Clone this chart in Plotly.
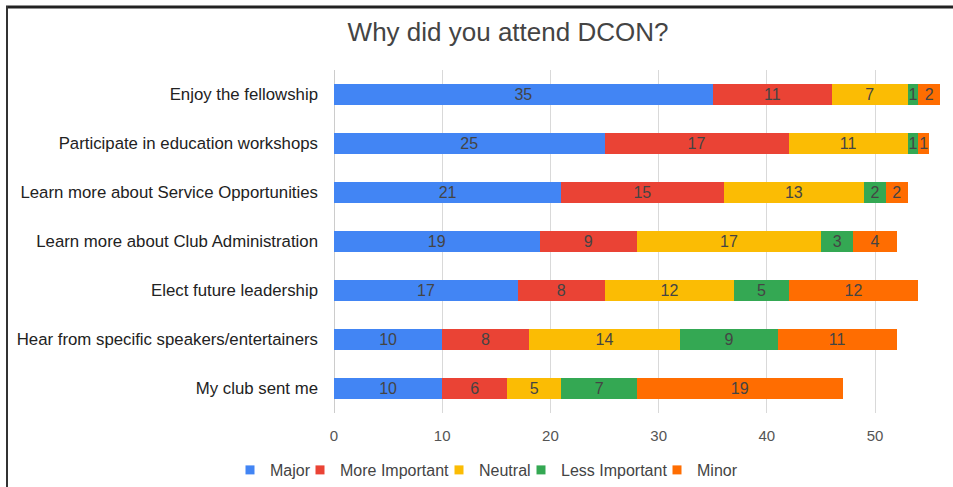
import plotly.graph_objects as go

categories = [
    "Enjoy the fellowship",
    "Participate in education workshops",
    "Learn more about Service Opportunities",
    "Learn more about Club Administration",
    "Elect future leadership",
    "Hear from specific speakers/entertainers",
    "My club sent me",
]
major = [35, 25, 21, 19, 17, 10, 10]
more_important = [11, 17, 15, 9, 8, 8, 6]
neutral = [7, 11, 13, 17, 12, 14, 5]
less_important = [1, 1, 2, 3, 5, 9, 7]
minor = [2, 1, 2, 4, 12, 11, 19]

series = [
    ("Major", major, "#4285F4"),
    ("More Important", more_important, "#EA4335"),
    ("Neutral", neutral, "#FBBC04"),
    ("Less Important", less_important, "#34A853"),
    ("Minor", minor, "#FF6D01"),
]
# x pixel where each legend entry's text starts (reference)
legend_text_x = [271, 341, 480, 562, 698]

FONT = "Arial, Liberation Sans, sans-serif"
W, H = 953, 487
L, R, T, B = 334, 13, 70, 74
pw, ph = W - L - R, H - T - B

fig = go.Figure()
legend_layouts = {}
for i, (name, vals, color) in enumerate(series):
    lname = "legend" if i == 0 else f"legend{i + 1}"
    fig.add_trace(go.Bar(
        y=categories, x=vals, name=name, orientation="h",
        marker=dict(color=color, line=dict(width=0)),
        text=[str(v) for v in vals], textposition="inside",
        insidetextanchor="middle", textangle=0,
        textfont=dict(size=16, color="#444444", family=FONT),
        constraintext="none", cliponaxis=False, showlegend=False,
    ))
    fig.add_trace(go.Scatter(
        x=[None], y=[None], mode="markers", name=name, legend=lname,
        marker=dict(symbol="square", size=9, color=color), showlegend=True,
    ))
    legend_layouts[lname] = dict(
        orientation="h", xref="container", yref="container",
        x=(legend_text_x[i] - 41) / W, xanchor="left",
        y=1 - 470 / H, yanchor="middle",
        font=dict(size=16, color="#444444", family=FONT),
        itemwidth=30, bgcolor="rgba(0,0,0,0)",
    )

fig.update_layout(
    width=W, height=H, barmode="stack", bargap=0.59,
    margin=dict(l=L, r=R, t=T, b=B, pad=0, autoexpand=False),
    paper_bgcolor="white", plot_bgcolor="white",
    font=dict(family=FONT, color="#444444"),
    uniformtext=dict(minsize=16, mode="show"),
    title=dict(text="Why did you attend DCON?", x=508 / W, xref="container", xanchor="center",
               y=1 - 32 / H, yref="container", yanchor="middle",
               font=dict(size=26, color="#444444", family=FONT)),
    xaxis=dict(range=[0, 56], tickvals=[0, 10, 20, 30, 40, 50], showgrid=True,
               gridcolor="#d9d9d9", gridwidth=1, zeroline=True, zerolinecolor="#cccccc",
               zerolinewidth=1, showline=False, ticks="", ticklabelstandoff=12,
               tickfont=dict(size=15, color="#555555")),
    yaxis=dict(autorange="reversed", showgrid=False, ticks="", showline=False,
               ticklabelstandoff=15, tickfont=dict(size=16.8, color="#222222")),
    showlegend=True,
    **legend_layouts,
)

# outer frame: top and left edges as in the screenshot
fig.add_shape(type="line", xref="paper", yref="paper", layer="above",
              x0=(6 - L) / pw, x1=(W + 5 - L) / pw,
              y0=1 + (T - 7) / ph, y1=1 + (T - 7) / ph,
              line=dict(color="#222222", width=3))
fig.add_shape(type="line", xref="paper", yref="paper", layer="above",
              x0=(7 - L) / pw, x1=(7 - L) / pw,
              y0=1 + (T - 6) / ph, y1=-(B + 15) / ph,
              line=dict(color="#333333", width=2))

fig.write_html("out.html", config={"displayModeBar": False},
               post_script="document.body.style.margin='0';")
